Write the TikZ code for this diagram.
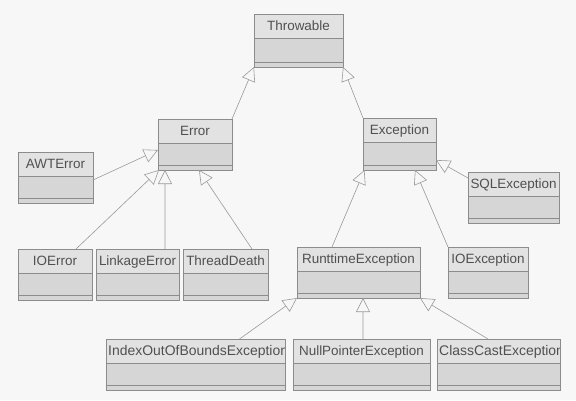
\documentclass[tikz,border=0pt]{standalone}
\usepackage{fontspec}
\setmainfont{Liberation Sans}
\usetikzlibrary{arrows.meta}

\definecolor{paper}{HTML}{F7F7F7}
\definecolor{boxline}{HTML}{8C8C8C}
\definecolor{namefill}{HTML}{E2E2E2}
\definecolor{bodyfill}{HTML}{D6D6D6}
\definecolor{ink}{HTML}{505050}
\definecolor{wire}{HTML}{9A9A9A}

\tikzset{
  clsbox/.style={draw=boxline, line width=0.7bp, inner sep=0pt, outer sep=0pt, anchor=north west},
  sepline/.style={draw=boxline, line width=0.6bp},
  clslabel/.style={text=ink, font=\fontsize{13.5}{15}\selectfont, inner sep=0pt},
  widelabel/.style={text=ink, font=\fontsize{14}{16}\selectfont, inner sep=0pt},
  gen/.style={draw=wire, line width=0.6bp,
    -{Triangle[length=14bp, width=14bp, fill=paper, line width=0.6bp]}},
}

% UML class box: name, x1, y1, x2, y2, label (label centred in the name compartment)
\newcommand{\umlclass}[6]{%
  \fill[namefill] (#2,#3) rectangle (#4,#3+24.5);
  \fill[bodyfill] (#2,#3+24.5) rectangle (#4,#5);
  \draw[sepline] (#2,#3+24.5) -- (#4,#3+24.5);
  \draw[sepline] (#2,#5-5) -- (#4,#5-5);
  \node[clslabel, anchor=base] (#1-label) at ({(#2+#4)/2},#3+16.5) {#6};
  \node[clsbox, minimum width={(#4-#2)*1bp}, minimum height={(#5-#3)*1bp}] (#1) at (#2,#3) {};
}
% Same, with the label set flush left and cut off at the box edge
\newcommand{\umlclassclip}[6]{%
  \fill[namefill] (#2,#3) rectangle (#4,#3+24.5);
  \fill[bodyfill] (#2,#3+24.5) rectangle (#4,#5);
  \draw[sepline] (#2,#3+24.5) -- (#4,#3+24.5);
  \draw[sepline] (#2,#5-5) -- (#4,#5-5);
  \begin{scope}
    \clip (#2,#3) rectangle (#4,#5);
    \node[widelabel, anchor=base west] (#1-label) at (#2+2,#3+16.5) {#6};
  \end{scope}
  \node[clsbox, minimum width={(#4-#2)*1bp}, minimum height={(#5-#3)*1bp}] (#1) at (#2,#3) {};
}

\begin{document}
\begin{tikzpicture}[x=1bp, y=-1bp]
  \fill[paper] (0,0) rectangle (576,400);
  \useasboundingbox (0,0) rectangle (576,400);

  % class boxes
  \umlclass{Throwable}{254}{14}{343}{67}{Throwable}
  \umlclass{Error}{158}{119}{232}{170}{Error}
  \umlclass{Exception}{363}{118}{436}{170}{Exception}
  \umlclass{AWTError}{18}{152}{93}{203}{AWTError}
  \umlclass{SQLException}{468}{172}{559}{223}{SQLException}
  \umlclass{IOError}{18}{249}{92}{300}{IOError}
  \umlclass{LinkageError}{96}{249}{179}{300}{LinkageError}
  \umlclass{ThreadDeath}{183}{249}{268}{300}{ThreadDeath}
  \umlclass{RuntimeException}{297}{247}{420}{298}{RunttimeException}
  \umlclass{IOException}{448}{247}{528}{298}{IOException}
  \umlclassclip{IndexOOB}{106}{339}{285}{390}{IndexOutOfBoundsException}
  \umlclass{NullPointer}{293}{339}{430}{390}{NullPointerException}
  \umlclassclip{ClassCast}{437}{339}{560}{390}{ClassCastException}

  % generalisation arrows
  \draw[gen] (Error.north east) -- (Throwable.south west);
  \draw[gen] (Exception.north west) -- (Throwable.south east);

  \draw[gen] ([yshift=-2.5bp]AWTError.east) -- ([yshift=-5.5bp]Error.west);
  \draw[gen] ([xshift=21bp]IOError.north) -- ([xshift=1bp]Error.south west);
  \draw[gen] ([xshift=27.5bp]LinkageError.north) -- ([xshift=7bp]Error.south west);
  \draw[gen] ([xshift=26.5bp]ThreadDeath.north) -- ([xshift=4bp]Error.south);

  \draw[gen] ([xshift=-26.5bp]RuntimeException.north) -- ([xshift=1.5bp]Exception.south west);
  \draw[gen] (IOException.north west) -- ([xshift=15.5bp]Exception.south);
  \draw[gen] ([yshift=19.5bp]SQLException.west) -- ([yshift=-16bp]Exception.east);

  \draw[gen] ([xshift=44bp]IndexOOB.north) -- (RuntimeException.south west);
  \draw[gen] ([xshift=1.5bp]NullPointer.north) -- ([xshift=4.5bp]RuntimeException.south);
  \draw[gen] ([xshift=-10.5bp]ClassCast.north) -- (RuntimeException.south east);
\end{tikzpicture}
\end{document}
